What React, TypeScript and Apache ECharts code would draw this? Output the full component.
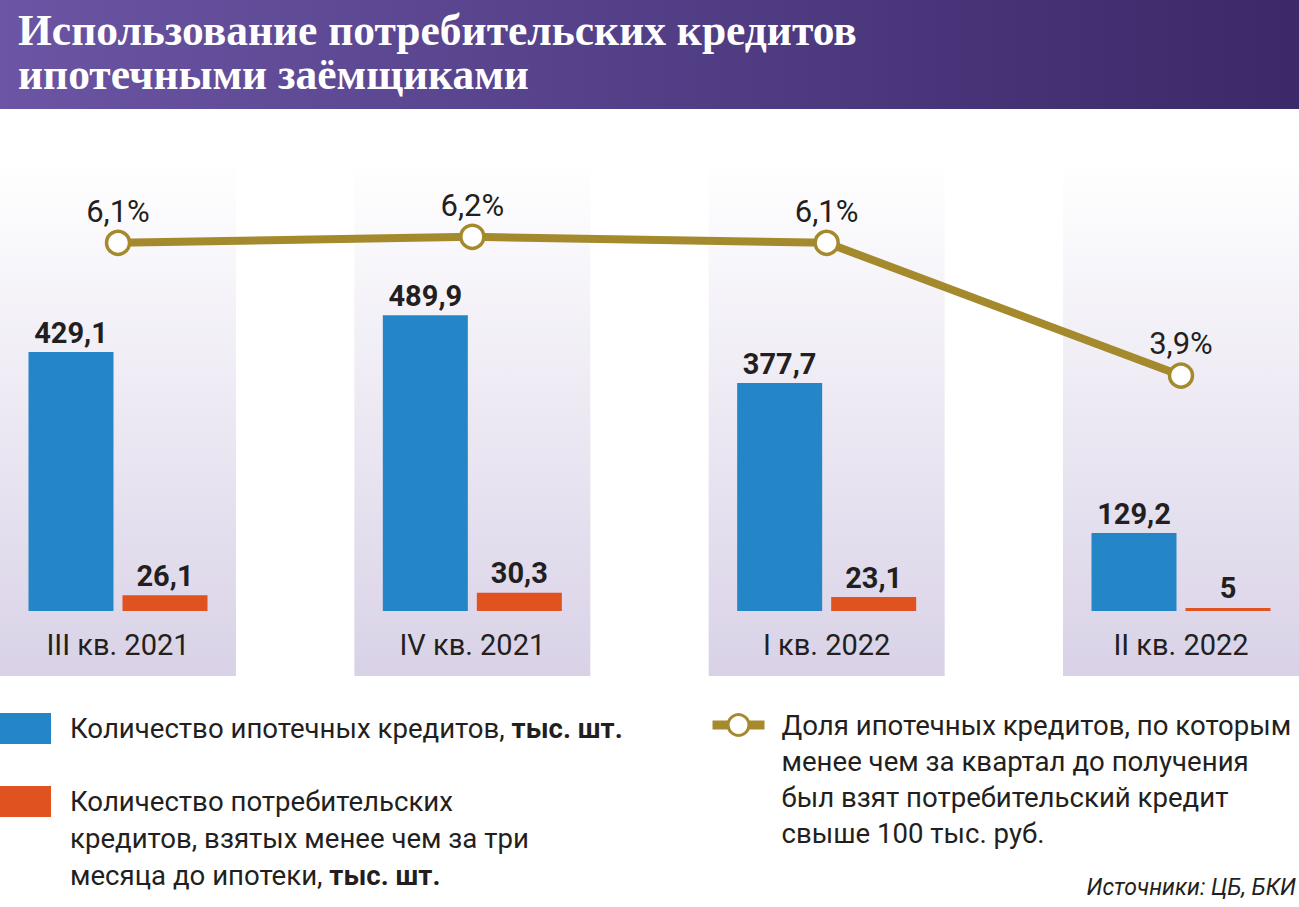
import React, { useEffect, useRef } from 'react';
import * as echarts from 'echarts';

const categories = ['III кв. 2021', 'IV кв. 2021', 'I кв. 2022', 'II кв. 2022'];
const mortgageCount = [429.1, 489.9, 377.7, 129.2];
const consumerCount = [26.1, 30.3, 23.1, 5];
const sharePct = [6.1, 6.2, 6.1, 3.9];
const columnBand = [1, 1, 1, 1];

const NAME_M = 'Количество ипотечных кредитов, тыс. шт.';
const NAME_C = 'Количество потребительских кредитов, взятых менее чем за три месяца до ипотеки, тыс. шт.';
const NAME_S = 'Доля ипотечных кредитов, по которым менее чем за квартал до получения был взят потребительский кредит свыше 100 тыс. руб.';

const legendText: Record<string, string> = {
  [NAME_M]: 'Количество ипотечных кредитов, {b|тыс. шт.}',
  [NAME_C]: 'Количество потребительских\nкредитов, взятых менее чем за три\nмесяца до ипотеки, {b|тыс. шт.}',
  [NAME_S]: 'Доля ипотечных кредитов, по которым\nменее чем за квартал до получения\nбыл взят потребительский кредит\nсвыше 100 тыс. руб.',
};

const FONT = "Roboto, 'Liberation Sans', sans-serif";
const SERIF = "'Liberation Serif', 'DejaVu Serif', serif";
const DARK = '#231f20';
const BLUE = '#2586c7';
const ORANGE = '#e0521f';
const GOLD = '#a58a2d';

const comma = (v: number) => String(v).replace('.', ',');

export default function App() {
  const ref = useRef<HTMLDivElement>(null);
  useEffect(() => {
    document.body.style.margin = '0';
    const chart = echarts.init(ref.current!, null, { renderer: 'svg' });
    const legendBase = (lineHeight: number, padTop: number, padLeft: number) => ({
      orient: 'vertical',
      padding: 0,
      selectedMode: false,
      formatter: (name: string) => legendText[name],
      textStyle: {
        fontFamily: FONT,
        fontSize: 27.6,
        color: DARK,
        lineHeight,
        padding: [padTop, 0, 0, padLeft],
        rich: {
          b: { fontFamily: FONT, fontSize: 27.6, fontWeight: 'bold', color: DARK, lineHeight },
        },
      },
    });
    const barLabel = {
      show: true,
      position: 'top',
      distance: 5,
      fontFamily: FONT,
      fontSize: 29,
      fontWeight: 'bold',
      color: DARK,
      formatter: (p: any) => comma(p.value),
    };
    const option: any = {
      animation: false,
      backgroundColor: '#ffffff',
      textStyle: { fontFamily: FONT },
      title: [
        {
          text: 'Использование потребительских кредитов\nипотечными заёмщиками',
          left: 18,
          top: 8,
          padding: 0,
          z: 10,
          textStyle: { color: '#ffffff', fontFamily: SERIF, fontWeight: 'bold', fontSize: 43.5, lineHeight: 44 },
        },
        {
          text: 'Источники: ЦБ, БКИ',
          right: 3,
          top: 876,
          padding: 0,
          textStyle: { color: DARK, fontFamily: FONT, fontStyle: 'italic', fontWeight: 'normal', fontSize: 23 },
        },
      ],
      graphic: [
        {
          type: 'rect',
          z: 0,
          shape: { x: 0, y: 0, width: 1299, height: 109 },
          style: {
            fill: new echarts.graphic.LinearGradient(0, 0, 1, 0, [
              { offset: 0, color: '#6b55a4' },
              { offset: 1, color: '#3b2969' },
            ]),
          },
        },
      ],
      legend: [
        {
          ...legendBase(37, 0, 14),
          left: 0,
          top: 710,
          icon: 'rect',
          itemWidth: 51,
          itemHeight: 31,
          data: [NAME_M],
        },
        {
          ...legendBase(37, 74, 14),
          left: 0,
          top: 709,
          icon: 'rect',
          itemWidth: 51,
          itemHeight: 31,
          data: [NAME_C],
        },
        {
          ...legendBase(36, 108, 12),
          left: 708,
          top: 599,
          itemWidth: 52,
          itemHeight: 26,
          lineStyle: { width: 9, color: GOLD },
          itemStyle: { color: '#ffffff', borderColor: GOLD, borderWidth: 3 },
          data: [NAME_S],
        },
      ],
      grid: [
        { left: 118, right: 118, top: 188.5, bottom: 296 },
        { left: 118, right: 118, top: 160, bottom: 231 },
      ],
      xAxis: [
        {
          type: 'category',
          gridIndex: 0,
          data: categories,
          boundaryGap: false,
          axisLine: { show: false },
          axisTick: { show: false },
          splitLine: { show: false },
          axisLabel: { fontFamily: FONT, fontSize: 29, color: DARK, margin: 19 },
        },
        { type: 'category', gridIndex: 1, data: categories, boundaryGap: false, show: false },
      ],
      yAxis: [
        { type: 'value', gridIndex: 0, min: 0, max: 700, show: false, splitLine: { show: false } },
        { type: 'value', gridIndex: 0, min: 0, max: 7, show: false, splitLine: { show: false } },
        { type: 'value', gridIndex: 1, min: 0, max: 1, show: false, splitLine: { show: false } },
      ],
      series: [
        {
          type: 'bar',
          name: 'columns',
          xAxisIndex: 1,
          yAxisIndex: 2,
          data: columnBand,
          barWidth: 236,
          silent: true,
          z: -5,
          itemStyle: {
            color: new echarts.graphic.LinearGradient(0, 0, 0, 1, [
              { offset: 0, color: '#ffffff' },
              { offset: 1, color: '#d9d2e7' },
            ]),
          },
        },
        {
          type: 'bar',
          name: NAME_M,
          xAxisIndex: 0,
          yAxisIndex: 0,
          data: mortgageCount,
          barWidth: 85,
          barGap: '10.6%',
          itemStyle: { color: BLUE },
          label: barLabel,
        },
        {
          type: 'bar',
          name: NAME_C,
          xAxisIndex: 0,
          yAxisIndex: 0,
          data: consumerCount,
          barWidth: 85,
          barGap: '10.6%',
          itemStyle: { color: ORANGE },
          label: barLabel,
        },
        {
          type: 'line',
          name: NAME_S,
          xAxisIndex: 0,
          yAxisIndex: 1,
          data: sharePct,
          symbol: 'circle',
          symbolSize: 23,
          z: 5,
          lineStyle: { color: GOLD, width: 8 },
          itemStyle: { color: '#ffffff', borderColor: GOLD, borderWidth: 3.5 },
          label: {
            show: true,
            position: 'top',
            distance: 3,
            fontFamily: FONT,
            fontSize: 31,
            color: DARK,
            formatter: (p: any) => comma(p.value) + '%',
          },
        },
      ],
    };
    chart.setOption(option);
    return () => chart.dispose();
  }, []);
  return <div ref={ref} style={{ position: 'absolute', left: 0, top: 0, width: 1299, height: 907 }} />;
}
